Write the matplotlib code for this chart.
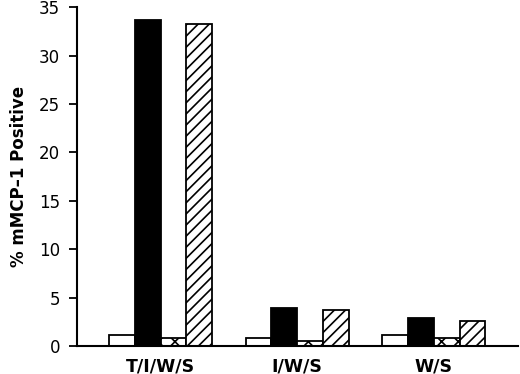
import matplotlib.pyplot as plt
import numpy as np

plt.rcParams['font.family'] = ['DejaVu Sans']
plt.rcParams['hatch.linewidth'] = 1.2

# Data
groups = ["T/I/W/S", "I/W/S", "W/S"]
open_vals = [1.1, 0.8, 1.1]
solid_vals = [33.7, 3.9, 2.9]
cross_vals = [0.8, 0.5, 0.8]
striped_vals = [33.3, 3.7, 2.6]

fig = plt.figure(figsize=(5.2, 3.74), dpi=100)
ax = fig.add_axes([0.148, 0.075, 0.848, 0.906])

x = np.arange(len(groups)) * 5.3
w = 1.0
ax.bar(x - 1.5 * w, open_vals, w, facecolor='white', edgecolor='black', lw=1.3)
ax.bar(x - 0.5 * w, solid_vals, w, facecolor='black', edgecolor='black', lw=1.3)
ax.bar(x + 0.5 * w, cross_vals, w, facecolor='white', edgecolor='black', lw=1.3, hatch='xx')
ax.bar(x + 1.5 * w, striped_vals, w, facecolor='white', edgecolor='black', lw=1.3, hatch='///')

ax.set_xlim(-3.24, 13.86)
ax.set_ylim(0, 35)
ax.set_yticks(range(0, 36, 5))
ax.set_xticks(x)
ax.set_xticklabels(groups, fontsize=12.5, fontweight='bold')
ax.tick_params(axis='x', length=0, pad=8)
ax.tick_params(axis='y', direction='out', length=6, width=1.3, labelsize=12, pad=6)
ax.spines['top'].set_visible(False)
ax.spines['right'].set_visible(False)
ax.spines['left'].set_linewidth(1.5)
ax.spines['bottom'].set_linewidth(1.5)
ax.set_ylabel("% mMCP\u20131 Positive", fontsize=12, fontweight='bold', labelpad=8)

fig.savefig("out.png", dpi=100)
